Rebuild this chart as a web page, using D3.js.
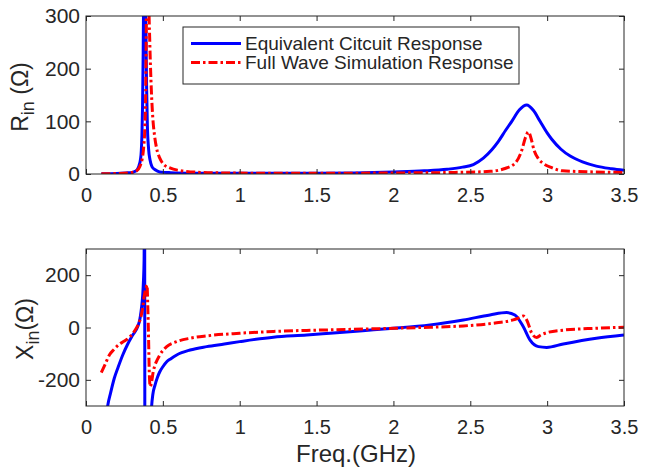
<!DOCTYPE html>
<html>
<head>
<meta charset="utf-8">
<script src="https://cdn.jsdelivr.net/npm/d3@7"></script>
<style>
  body { margin: 0; background: #fff; }
  text { font-family: "Liberation Sans", Arial, sans-serif; fill: #262626; }
</style>
</head>
<body>
<div id="chart"></div>
<script>
// frequency (GHz) / value pairs
var rCircuit = [[0.10,0.5],[0.20,1],[0.26,2],[0.30,3],[0.32,5],[0.335,9],[0.345,16],[0.354,27],[0.360,45],
  [0.364,75],[0.368,130],[0.372,230],[0.375,340],[0.380,600],[0.386,380],[0.390,270],[0.394,170],[0.399,95],
  [0.407,48],[0.417,26],[0.429,14],[0.45,8],[0.48,4],[0.55,2.5],[0.7,1.5],[1.0,1.2],[1.5,1.5],[2.0,4],[2.2,6],
  [2.35,9],[2.45,13],[2.52,18],[2.585,30],[2.64,46],[2.683,62],[2.73,83],[2.77,100],[2.82,122],[2.867,131],
  [2.91,121],[2.954,100],[3.0,78],[3.03,66],[3.09,47],[3.15,34],[3.23,23],[3.32,15],[3.42,10],[3.5,7]];
var rSimulation = [[0.10,0.5],[0.20,1],[0.30,3],[0.33,6],[0.35,14],[0.365,28],[0.375,50],[0.383,90],[0.389,170],
  [0.393,320],[0.40,600],[0.407,360],[0.415,250],[0.425,160],[0.435,105],[0.445,75],[0.46,48],[0.48,30],[0.50,20],
  [0.55,11],[0.6,7],[0.65,5],[0.75,3],[0.9,2],[1.2,1.5],[1.6,1.5],[2.0,2],[2.4,3],[2.63,5],[2.72,10],[2.79,20],
  [2.835,45],[2.86,70],[2.878,80],[2.895,68],[2.915,45],[2.945,28],[2.975,20],[3.03,12],[3.1,6],[3.3,4],[3.5,3]];
var xCircuit = [[0.12,-420],[0.141,-300],[0.16,-250],[0.184,-194],[0.21,-150],[0.239,-105],[0.27,-65],[0.304,-29],
  [0.336,3],[0.35,30],[0.358,60],[0.364,90],[0.369,124],[0.374,180],[0.378,260],[0.381,700],[0.3835,-700],
  [0.41,-500],[0.42,-380],[0.427,-300],[0.435,-255],[0.449,-220],[0.465,-190],[0.48,-169],[0.50,-150],[0.525,-131],
  [0.55,-120],[0.59,-105],[0.677,-86],[0.785,-73],[0.9,-63],[1.0,-54],[1.219,-37],[1.436,-29],[1.587,-22],
  [1.8,-12],[2.0,-3],[2.238,10],[2.455,29],[2.628,48],[2.737,57],[2.79,48],[2.845,3],[2.889,-48],[2.943,-73],
  [2.997,-76],[3.105,-63],[3.32,-41],[3.5,-29]];
var xSimulation = [[0.10,-172],[0.125,-140],[0.152,-105],[0.18,-85],[0.217,-64],[0.25,-52],[0.282,-38],[0.305,-22],
  [0.325,-5],[0.345,18],[0.358,42],[0.37,80],[0.38,124],[0.39,150],[0.397,162],[0.402,80],[0.407,-40],[0.412,-180],
  [0.418,-226],[0.427,-207],[0.437,-170],[0.449,-143],[0.465,-122],[0.48,-105],[0.525,-73],[0.59,-54],[0.677,-41],
  [0.785,-32],[1.0,-22],[1.219,-15],[1.436,-11],[1.587,-9],[2.0,-3],[2.238,1],[2.455,6],[2.672,18],[2.78,29],
  [2.82,38],[2.845,44],[2.867,29],[2.90,-22],[2.932,-38],[2.96,-28],[2.997,-20],[3.105,-10],[3.32,-3],[3.5,1]];

var freqTicks = [0, 0.5, 1, 1.5, 2, 2.5, 3, 3.5];
var rTicks = [0, 100, 200, 300];
var xTicks = [-200, 0, 200];
var legendLabels = ["Equivalent Citcuit Response", "Full Wave Simulation Response"];

var w = 654, h = 473;
var blue = "#0000ff", red = "#ff0000";
var dashDot = "9,3,2.5,3";

var svg = d3.select("#chart").append("svg")
  .attr("width", w)
  .attr("height", h)
  .style("background", "#fff");

var x = d3.scaleLinear().domain([0, 3.5]).range([86, 624]);

function drawPanel(id, top, bottom, domain, ticks, series) {
  var y = d3.scaleLinear().domain(domain).range([bottom, top]);

  svg.append("clipPath").attr("id", id)
    .append("rect")
    .attr("x", x.range()[0]).attr("y", top)
    .attr("width", x.range()[1] - x.range()[0]).attr("height", bottom - top);

  var line = d3.line()
    .x(function(d) { return x(d[0]); })
    .y(function(d) { return y(d[1]); })
    .curve(d3.curveMonotoneX);

  var g = svg.append("g").attr("clip-path", "url(#" + id + ")");
  series.forEach(function(s) {
    g.append("path")
      .datum(s.data)
      .attr("d", line)
      .attr("fill", "none")
      .attr("stroke", s.color)
      .attr("stroke-width", 3)
      .attr("stroke-dasharray", s.dash)
      .attr("stroke-linejoin", "round");
  });

  // inward ticks on all four sides, MATLAB style
  var bx = svg.append("g").attr("transform", "translate(0," + bottom + ")")
    .call(d3.axisBottom(x).tickValues(freqTicks).tickFormat(d3.format("")).tickSize(-5).tickSizeOuter(0).tickPadding(14));
  svg.append("g").attr("transform", "translate(0," + top + ")")
    .call(d3.axisTop(x).tickValues(freqTicks).tickFormat("").tickSize(-5).tickSizeOuter(0));
  var ly = svg.append("g").attr("transform", "translate(" + x.range()[0] + ",0)")
    .call(d3.axisLeft(y).tickValues(ticks).tickFormat(function(d) { return String(d); })
      .tickSize(-5).tickSizeOuter(0).tickPadding(6));
  svg.append("g").attr("transform", "translate(" + x.range()[1] + ",0)")
    .call(d3.axisRight(y).tickValues(ticks).tickFormat("").tickSize(-5).tickSizeOuter(0));

  svg.selectAll(".domain").remove();
  svg.selectAll(".tick line").attr("stroke", "#262626");
  bx.selectAll("text").style("font-size", "20px").attr("fill", "#1a1a1a");
  ly.selectAll("text").style("font-size", "21px").attr("fill", "#1a1a1a");

  svg.append("rect")
    .attr("x", x.range()[0]).attr("y", top)
    .attr("width", x.range()[1] - x.range()[0]).attr("height", bottom - top)
    .attr("fill", "none")
    .attr("stroke", "#262626")
    .attr("stroke-width", 1);
}

drawPanel("clipR", 16, 174, [0, 300], rTicks, [
  { data: rCircuit, color: blue, dash: null },
  { data: rSimulation, color: red, dash: dashDot }
]);
drawPanel("clipX", 249, 406, [-300, 300], xTicks, [
  { data: xCircuit, color: blue, dash: null },
  { data: xSimulation, color: red, dash: dashDot }
]);

// y labels with subscripts
function yLabel(cx, cy, main, rest) {
  var t = svg.append("text")
    .attr("transform", "translate(" + cx + "," + cy + ") rotate(-90)")
    .attr("text-anchor", "middle")
    .style("font-size", "23px");
  t.append("tspan").text(main);
  t.append("tspan").attr("dy", 6).style("font-size", "18px").text("in");
  t.append("tspan").attr("dy", -6).text(rest);
}
yLabel(28, 97, "R", "\u00A0(\u03A9)");
yLabel(33, 329, "X", "(\u03A9)");

svg.append("text")
  .attr("x", 356).attr("y", 462)
  .attr("text-anchor", "middle")
  .style("font-size", "24px")
  .text("Freq.(GHz)");

// legend
var legend = svg.append("g");
legend.append("rect")
  .attr("x", 183).attr("y", 27).attr("width", 336).attr("height", 57)
  .attr("fill", "#fff").attr("stroke", "#262626").attr("stroke-width", 1);
[{ color: blue, dash: null }, { color: red, dash: dashDot }].forEach(function(s, i) {
  var yy = 43.5 + i * 19;
  legend.append("line")
    .attr("x1", 191).attr("x2", 241).attr("y1", yy).attr("y2", yy)
    .attr("stroke", s.color).attr("stroke-width", 3).attr("stroke-dasharray", s.dash);
  legend.append("text")
    .attr("x", 245).attr("y", yy)
    .attr("dy", "0.36em")
    .style("font-size", "19px")
    .text(legendLabels[i]);
});
</script>
</body>
</html>
